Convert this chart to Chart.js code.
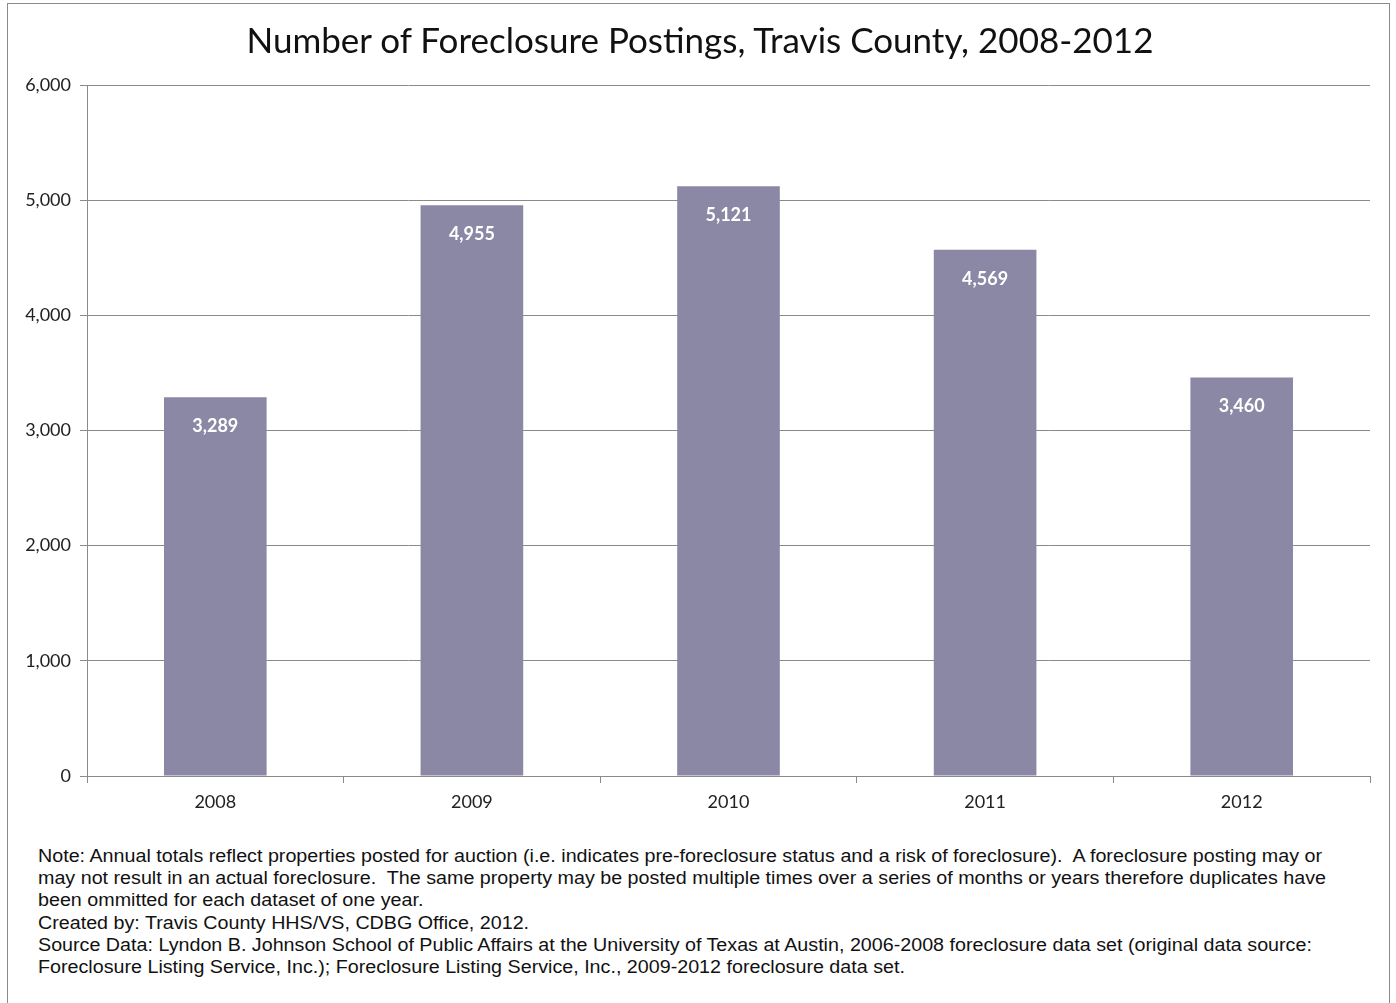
<!DOCTYPE html>
<html>
<head>
<meta charset="utf-8">
<script src="https://cdn.jsdelivr.net/npm/chart.js@4.4.1/dist/chart.umd.min.js"></script>
<style>
  html, body { margin: 0; padding: 0; background: #fff; }
  body { width: 1396px; height: 1003px; position: relative; overflow: hidden; }
  #frame { position: absolute; left: 7px; top: 3px; width: 1383px; height: 1010px; border: 1px solid #8a8a8a; box-sizing: border-box; pointer-events: none; }
  #wrap { position: absolute; left: 0; top: 0; width: 1396px; height: 830px; }
  #title { position: absolute; left: 0; top: 18px; width: 1400px; text-align: center; font-family: Lato, "Open Sans", sans-serif; font-size: 35px; line-height: 42px; color: #111; white-space: nowrap; }
  #notes { position: absolute; left: 38px; top: 845px; font-family: "Liberation Sans Narrow", "Arial Narrow", "Liberation Sans", sans-serif; font-size: 17.5px; line-height: 22.2px; color: #111; white-space: nowrap; transform-origin: 0 0; }
</style>
</head>
<body>
<div id="wrap"><canvas id="c" width="1396" height="830"></canvas></div>
<div id="title"></div>
<div id="notes">
<span id="l1">Note: Annual totals reflect properties posted for auction (i.e. indicates pre-foreclosure status and a risk of foreclosure).&nbsp; A foreclosure posting may or</span><br>
may not result in an actual foreclosure.&nbsp; The same property may be posted multiple times over a series of months or years therefore duplicates have<br>
been ommitted for each dataset of one year.<br>
Created by: Travis County HHS/VS, CDBG Office, 2012.<br>
Source Data: Lyndon B. Johnson School of Public Affairs at the University of Texas at Austin, 2006-2008 foreclosure data set (original data source:<br>
Foreclosure Listing Service, Inc.); Foreclosure Listing Service, Inc., 2009-2012 foreclosure data set.
</div>
<div id="frame"></div>
<script>
const years = ["2008", "2009", "2010", "2011", "2012"];
const postings = [3289, 4955, 5121, 4569, 3460];
const chartTitle = "Number of Foreclosure Postings, Travis County, 2008-2012";

const fmt = v => v.toLocaleString("en-US");

document.getElementById("title").textContent = chartTitle;

// stretch the note text horizontally so its first line spans the same width as the reference
(function fitNotes() {
  const l1 = document.getElementById("l1");
  const w = l1.getBoundingClientRect().width;
  const target = 1284;
  document.getElementById("notes").style.transform = "scaleX(" + (target / w) + ")";
})();

const barLabels = {
  id: "barLabels",
  afterDatasetsDraw(chart) {
    const ctx = chart.ctx;
    const meta = chart.getDatasetMeta(0);
    ctx.save();
    ctx.fillStyle = "#ffffff";
    ctx.font = "bold 18px Lato, 'Open Sans', sans-serif";
    ctx.textAlign = "center";
    ctx.textBaseline = "middle";
    meta.data.forEach((bar, i) => {
      ctx.fillText(fmt(postings[i]), bar.x, bar.y + 29);
    });
    ctx.restore();
  }
};

new Chart(document.getElementById("c"), {
  type: "bar",
  data: {
    labels: years,
    datasets: [{
      data: postings,
      backgroundColor: "#8b88a6",
      borderWidth: 0,
      categoryPercentage: 0.8,
      barPercentage: 0.5
    }]
  },
  options: {
    responsive: false,
    animation: false,
    devicePixelRatio: 1,
    layout: { padding: { left: 0, right: 26, top: 85, bottom: 0 } },
    plugins: {
      legend: { display: false },
      tooltip: { enabled: false },
      title: { display: false }
    },
    scales: {
      x: {
        offset: true,
        grid: { offset: true, drawOnChartArea: false, drawTicks: true, tickLength: 7, color: "#8a8a8a" },
        border: { display: true, color: "#8a8a8a", width: 1 },
        ticks: { color: "#222", font: { family: "Lato, 'Open Sans', sans-serif", size: 18 }, padding: 8 },
        afterFit(scale) { scale.height = 54; }
      },
      y: {
        min: 0, max: 6000,
        ticks: { stepSize: 1000, color: "#222", font: { family: "Lato, 'Open Sans', sans-serif", size: 18 }, padding: 9, callback: v => fmt(v) },
        grid: { color: "#8a8a8a", tickLength: 7, lineWidth: 1 },
        border: { display: true, color: "#8a8a8a", width: 1 },
        afterFit(scale) { scale.width = 87; }
      }
    }
  },
  plugins: [barLabels]
});
</script>
</body>
</html>
